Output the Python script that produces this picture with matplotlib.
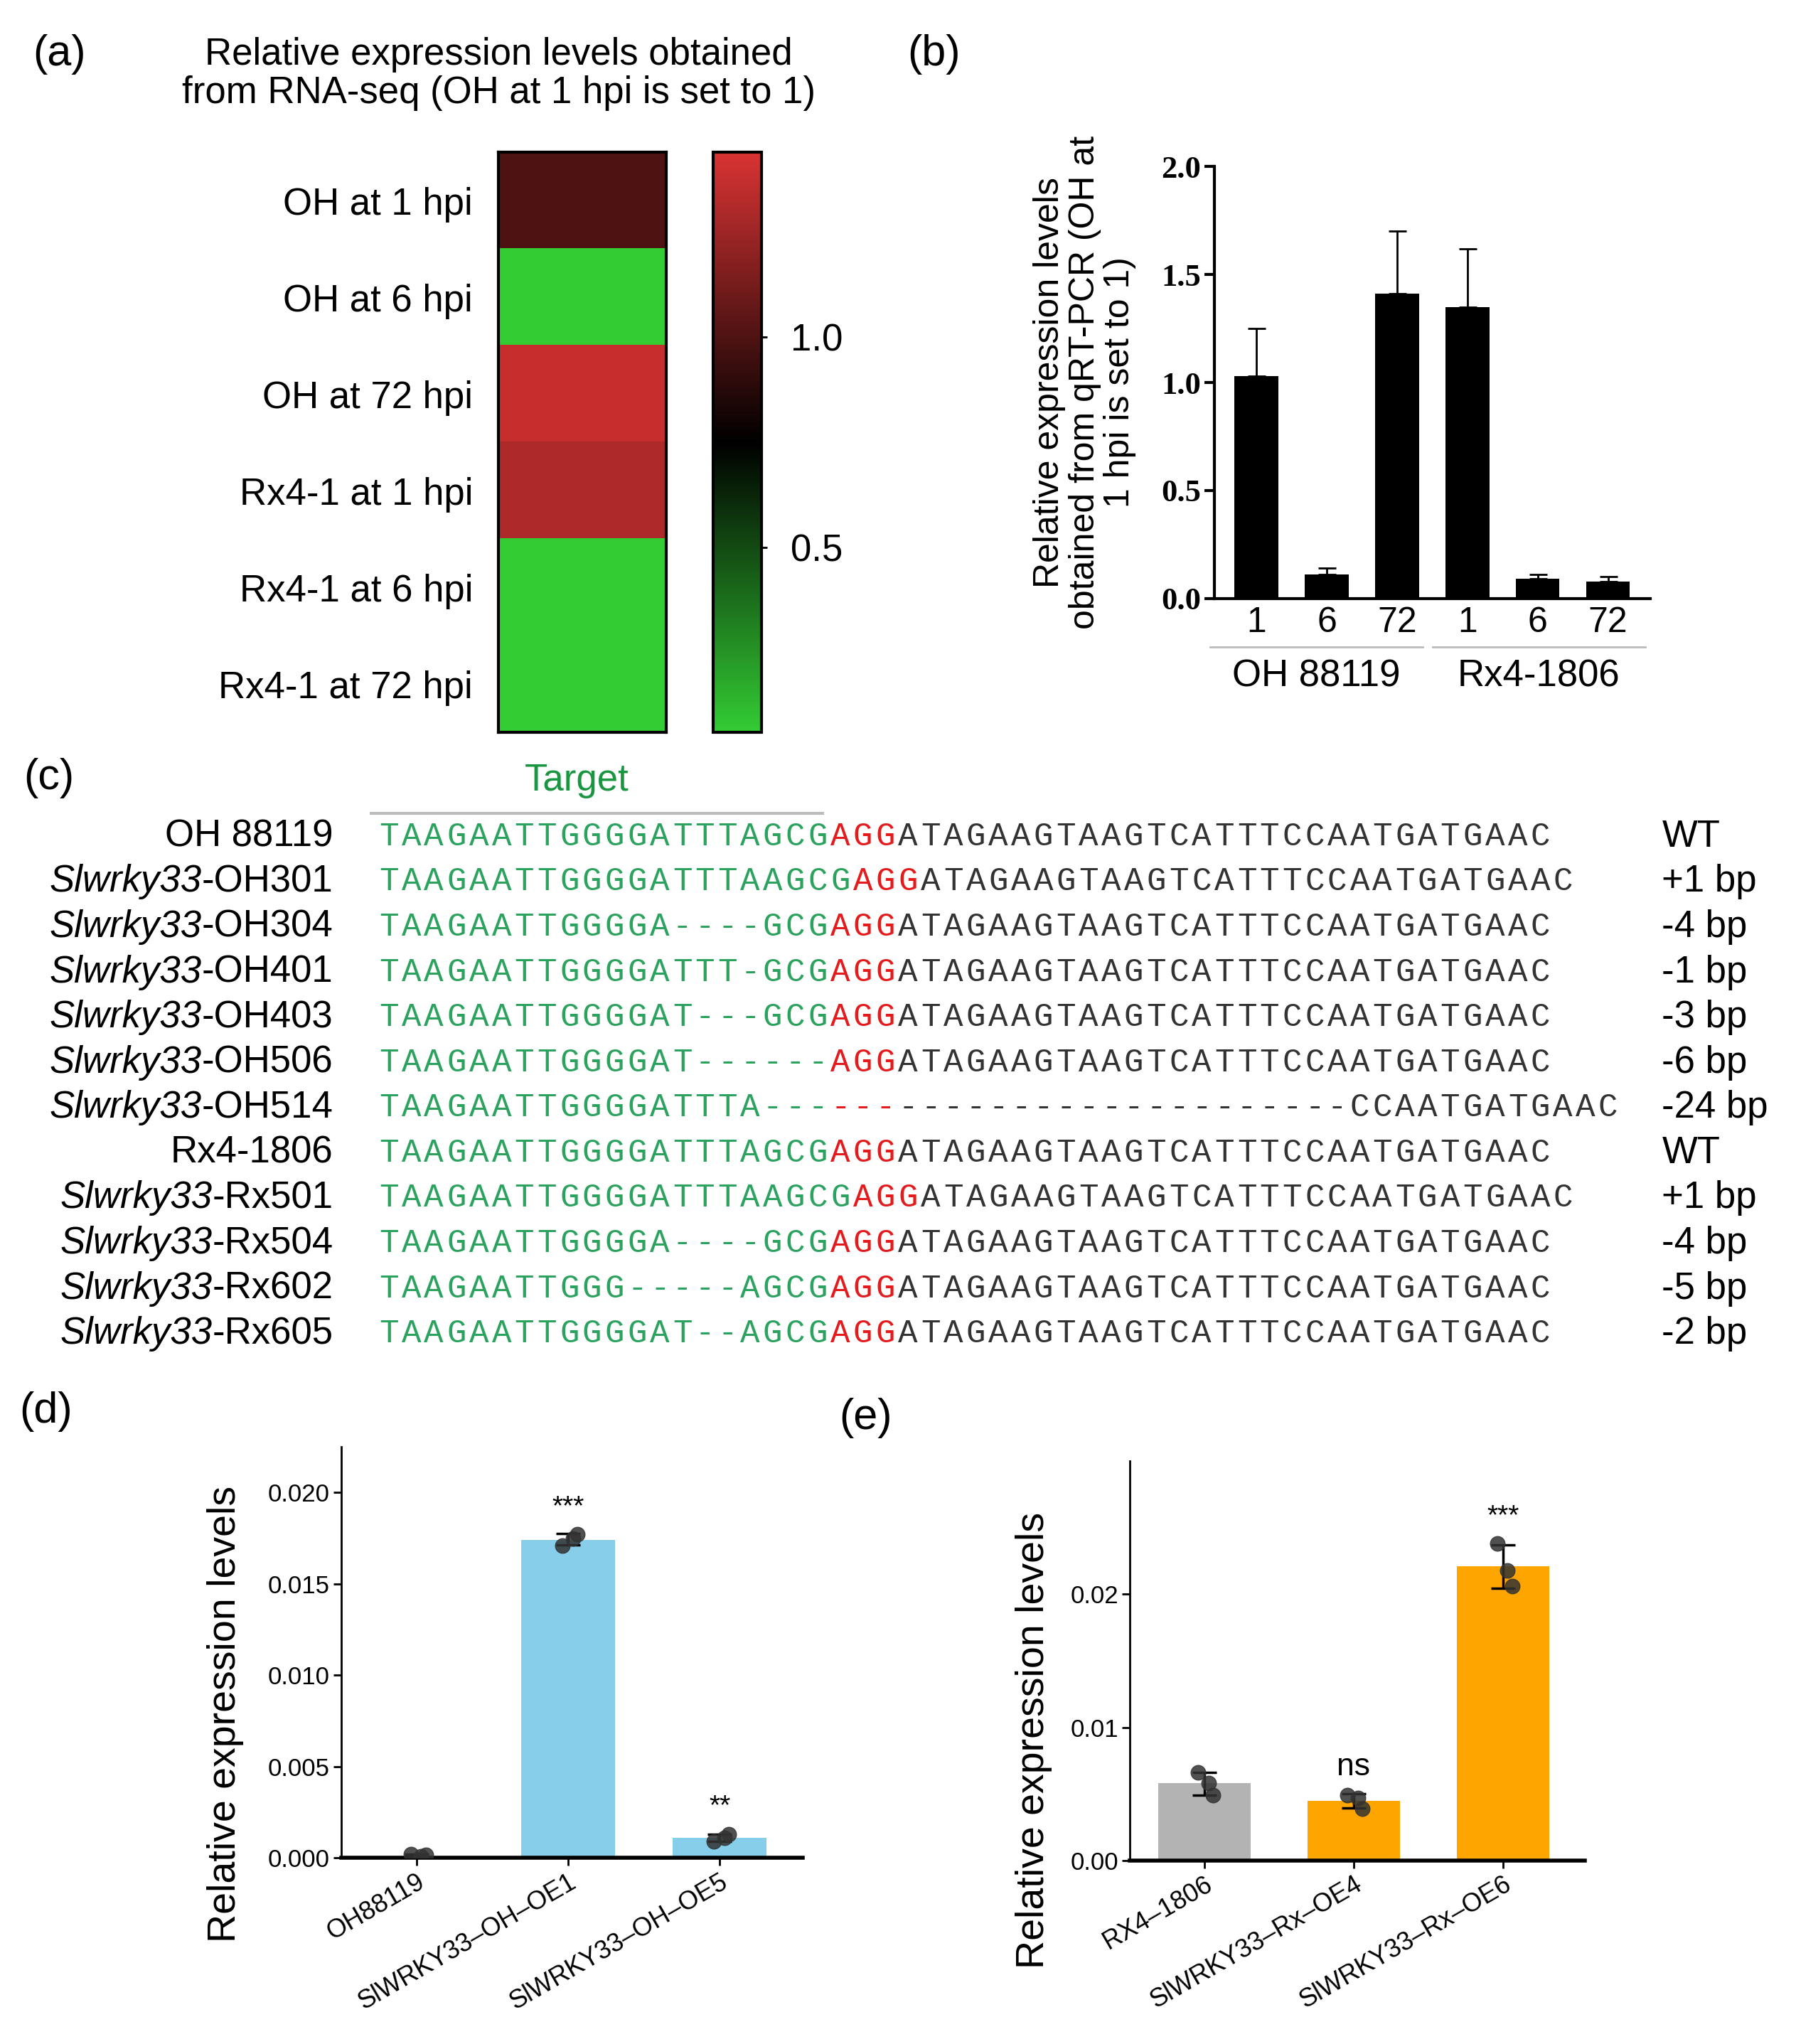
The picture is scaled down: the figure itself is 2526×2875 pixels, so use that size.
import matplotlib
matplotlib.use("Agg")
import matplotlib.pyplot as plt
import numpy as np
from matplotlib.colors import LinearSegmentedColormap

plt.rcParams["font.family"] = ["Liberation Sans", "DejaVu Sans"]

# ---- data ----
heat_labels = ["OH at 1 hpi", "OH at 6 hpi", "OH at 72 hpi",
               "Rx4-1 at 1 hpi", "Rx4-1 at 6 hpi", "Rx4-1 at 72 hpi"]
heat_values = [1.0, 0.06, 1.38, 1.30, 0.06, 0.06]
heat_vmin, heat_vmax = 0.06, 1.44

qpcr_ticks = ["1", "6", "72", "1", "6", "72"]
qpcr_means = [1.03, 0.11, 1.41, 1.35, 0.09, 0.08]
qpcr_err = [0.22, 0.03, 0.29, 0.27, 0.02, 0.02]
qpcr_groups = ["OH 88119", "Rx4-1806"]

seq_names = [("", "OH 88119"), ("Slwrky33", "-OH301"), ("Slwrky33", "-OH304"),
             ("Slwrky33", "-OH401"), ("Slwrky33", "-OH403"), ("Slwrky33", "-OH506"),
             ("Slwrky33", "-OH514"), ("", "Rx4-1806"), ("Slwrky33", "-Rx501"),
             ("Slwrky33", "-Rx504"), ("Slwrky33", "-Rx602"), ("Slwrky33", "-Rx605")]
tail = "ATAGAAGTAAGTCATTTCCAATGATGAAC"
seq_parts = [
    [("TAAGAATTGGGGATTTAGCG", "g"), ("AGG", "r"), (tail, "k")],
    [("TAAGAATTGGGGATTTAAGCG", "g"), ("AGG", "r"), (tail, "k")],
    [("TAAGAATTGGGGA----GCG", "g"), ("AGG", "r"), (tail, "k")],
    [("TAAGAATTGGGGATTT-GCG", "g"), ("AGG", "r"), (tail, "k")],
    [("TAAGAATTGGGGAT---GCG", "g"), ("AGG", "r"), (tail, "k")],
    [("TAAGAATTGGGGAT------", "g"), ("AGG", "r"), (tail, "k")],
    [("TAAGAATTGGGGATTTA---", "g"), ("---", "r"), ("-" * 20 + "CCAATGATGAAC", "k")],
    [("TAAGAATTGGGGATTTAGCG", "g"), ("AGG", "r"), (tail, "k")],
    [("TAAGAATTGGGGATTTAAGCG", "g"), ("AGG", "r"), (tail, "k")],
    [("TAAGAATTGGGGA----GCG", "g"), ("AGG", "r"), (tail, "k")],
    [("TAAGAATTGGG-----AGCG", "g"), ("AGG", "r"), (tail, "k")],
    [("TAAGAATTGGGGAT--AGCG", "g"), ("AGG", "r"), (tail, "k")],
]
seq_change = ["WT", "+1 bp", "-4 bp", "-1 bp", "-3 bp", "-6 bp", "-24 bp",
              "WT", "+1 bp", "-4 bp", "-5 bp", "-2 bp"]

d_labels = ["OH88119", "SlWRKY33\u2013OH\u2013OE1", "SlWRKY33\u2013OH\u2013OE5"]
d_means = [0.00005, 0.0174, 0.0011]
d_points = [[0.0002, 0.0001, 0.00015], [0.0171, 0.0175, 0.0177], [0.0009, 0.0011, 0.0013]]
d_sig = ["", "***", "**"]

e_labels = ["RX4\u20131806", "SlWRKY33\u2013Rx\u2013OE4", "SlWRKY33\u2013Rx\u2013OE6"]
e_means = [0.0058, 0.0045, 0.0221]
e_points = [[0.0066, 0.0058, 0.0049], [0.0049, 0.0047, 0.0039], [0.0238, 0.0218, 0.0206]]
e_sig = ["", "ns", "***"]

W, H = 1380.0, 1571.0
fig = plt.figure(figsize=(25.26, 28.75), dpi=100)
renderer = fig.canvas.get_renderer()


def fx(x):
    return x / W


def fy(y):
    return 1 - y / H


def ax_at(x0, y0, x1, y1):
    return fig.add_axes([fx(x0), fy(y1), fx(x1) - fx(x0), (y1 - y0) / H])


def letter(x, y, s):
    fig.text(fx(x), fy(y), s, fontsize=44, ha="left", va="center")


# ---- (a) heatmap ----
letter(25, 42, "(a)")
fig.text(fx(383), fy(57), "Relative expression levels obtained\nfrom RNA-seq (OH at 1 hpi is set to 1)",
         fontsize=38, ha="center", va="center", linespacing=1.1)
cmap = LinearSegmentedColormap.from_list("gkr", [(0.2, 0.8, 0.2), (0, 0, 0), (0.85, 0.2, 0.2)])
axh = ax_at(383, 117, 512, 563)
im = axh.imshow(np.array(heat_values).reshape(-1, 1), cmap=cmap, vmin=heat_vmin, vmax=heat_vmax,
                aspect="auto")
axh.set_xticks([])
axh.set_yticks(range(len(heat_labels)))
axh.set_yticklabels(heat_labels, fontsize=38)
axh.tick_params(axis="y", length=0, pad=26)
for s in axh.spines.values():
    s.set_linewidth(3)
axc = ax_at(548, 117, 585, 563)
cb = fig.colorbar(im, cax=axc, ticks=[0.5, 1.0])
cb.ax.set_yticklabels(["0.5", "1.0"], fontsize=38)
cb.ax.tick_params(length=6, width=2, pad=24)
cb.outline.set_linewidth(3)

# ---- (b) qRT-PCR ----
letter(697, 42, "(b)")
axb = ax_at(933, 128, 1268, 460)
xb = np.arange(len(qpcr_means))
axb.bar(xb, qpcr_means, width=0.62, color="black", yerr=[np.zeros(6), qpcr_err],
        error_kw=dict(ecolor="black", elinewidth=2, capsize=9, capthick=2))
axb.set_xlim(-0.6, 5.6)
axb.set_ylim(0, 2.0)
axb.set_yticks([0, 0.5, 1.0, 1.5, 2.0])
axb.set_yticklabels(["0.0", "0.5", "1.0", "1.5", "2.0"], family="Liberation Serif",
                    fontweight="bold", fontsize=32)
axb.set_xticks(xb)
axb.set_xticklabels(qpcr_ticks, fontsize=36)
axb.tick_params(axis="x", length=0, pad=8)
axb.tick_params(axis="y", length=10, width=3)
for k in ["top", "right"]:
    axb.spines[k].set_visible(False)
for k in ["left", "bottom"]:
    axb.spines[k].set_linewidth(3)
axb.set_ylabel("Relative expression levels\nobtained from qRT-PCR (OH at\n1 hpi is set to 1)",
               fontsize=36, labelpad=25, linespacing=1.1)
for (x0, x1), g in zip([(930, 1093), (1101, 1264)], qpcr_groups):
    fig.add_artist(plt.Line2D([fx(x0), fx(x1)], [fy(497), fy(497)], color="#bbbbbb", lw=2))
    fig.text(fx((x0 + x1) / 2), fy(520), g, fontsize=38, ha="center", va="center")

# ---- (c) sequences ----
letter(18, 598, "(c)")
fig.text(fx(443), fy(600), "Target", fontsize=38, color="#1a9641", ha="center", va="center")
fig.add_artist(plt.Line2D([fx(285), fx(632)], [fy(625), fy(625)], color="#bbbbbb", lw=3))
colmap = {"g": "#2ca25f", "r": "#e41a1c", "k": "#333333"}
cw = 17.35
for i, (name, parts, chg) in enumerate(zip(seq_names, seq_parts, seq_change)):
    y = fy(643 + i * 34.75)
    it, rest = name
    t = fig.text(fx(256), y, rest, fontsize=38, ha="right", va="center")
    if it:
        wpx = t.get_window_extent(renderer).width
        fig.text(fx(256) - wpx / fig.bbox.width, y, it, fontsize=38, style="italic",
                 ha="right", va="center")
    k = 0
    for s, c in parts:
        for ch in s:
            fig.text(fx(290 + k * cw + cw / 2), y, ch, fontsize=33, family="Liberation Mono",
                     color=colmap[c], ha="center", va="center")
            k += 1
    fig.text(fx(1277), y, chg, fontsize=38, ha="left", va="center")


def dot_panel(ax, means, points, labels, colors, sig, ymax, yticks, yfmt):
    x = np.arange(len(means))
    ax.bar(x, means, width=0.62, color=colors)
    for xi, pts in zip(x, points):
        pts = np.array(pts)
        m, sd = pts.mean(), pts.std(ddof=1)
        ax.errorbar(xi, m, yerr=sd, color="black", capsize=12, elinewidth=2.5, capthick=2.5)
        ax.scatter(xi + np.array([-0.04, 0.03, 0.06][:len(pts)]), pts, s=220, color="#333333",
                   alpha=0.85, zorder=5)
    for xi, s, pts in zip(x, sig, points):
        if s:
            ax.text(xi, max(pts) + ymax * 0.035, s, ha="center", va="bottom",
                    fontsize=32 if s == "ns" else 28)
    ax.set_xlim(-0.5, 2.55)
    ax.set_ylim(0, ymax)
    ax.set_yticks(yticks)
    ax.set_yticklabels([yfmt % v for v in yticks], fontsize=25)
    ax.set_xticks(x)
    ax.set_xticklabels(labels, rotation=30, ha="right", rotation_mode="anchor", fontsize=26)
    ax.tick_params(length=8, width=2)
    for k in ["top", "right"]:
        ax.spines[k].set_visible(False)
    ax.spines["left"].set_linewidth(2)
    ax.spines["bottom"].set_linewidth(4)
    ax.set_ylabel("Relative expression levels", fontsize=40)


letter(15, 1085, "(d)")
axd = ax_at(262, 1112, 617, 1428)
dot_panel(axd, d_means, d_points, d_labels, ["#87CEEB"] * 3, d_sig, 0.0225,
          [0, 0.005, 0.010, 0.015, 0.020], "%.3f")
axd.yaxis.set_label_coords(-0.21, 0.35)

letter(645, 1090, "(e)")
axe = ax_at(868, 1123, 1218, 1430)
dot_panel(axe, e_means, e_points, e_labels, ["#B3B3B3", "#FFA500", "#FFA500"], e_sig, 0.030,
          [0, 0.01, 0.02], "%.2f")
axe.yaxis.set_label_coords(-0.17, 0.3)

fig.savefig("out.png", dpi=100)
